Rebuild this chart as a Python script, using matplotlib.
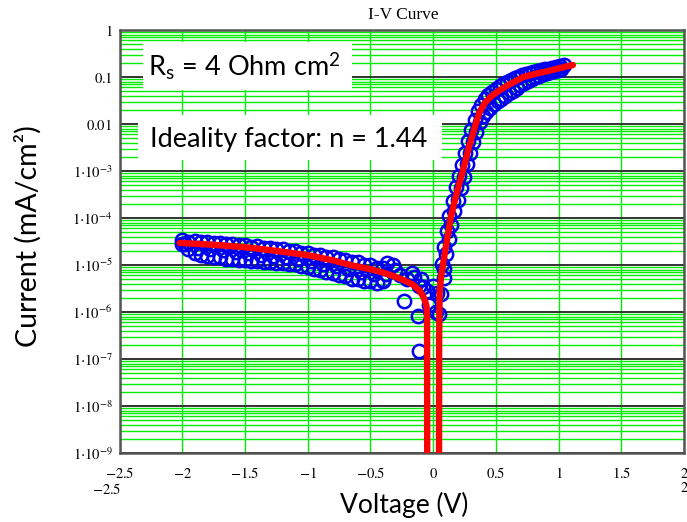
import numpy as np
import matplotlib
matplotlib.use("Agg")
import matplotlib.pyplot as plt
from matplotlib.patches import Rectangle
from matplotlib.ticker import FixedLocator, NullFormatter

plt.rcParams['mathtext.fontset'] = 'stix'

# measured J-V points, log10 of current density (mA/cm^2)
# reverse bias, three overlapping passes
rev_v = [-2.00, -1.95, -1.90, -1.85, -1.80, -1.75, -1.70, -1.65, -1.60, -1.55, -1.50,
         -1.45, -1.40, -1.35, -1.30, -1.25, -1.20, -1.15, -1.10, -1.05, -1.00, -0.95,
         -0.90, -0.85, -0.80, -0.75, -0.70, -0.65, -0.60, -0.55, -0.50, -0.45, -0.40]
rev_log_upper = [-4.47, -4.50, -4.49, -4.52, -4.51, -4.54, -4.53, -4.56, -4.56, -4.58, -4.57,
                 -4.61, -4.60, -4.64, -4.63, -4.67, -4.67, -4.71, -4.71, -4.75, -4.75, -4.79,
                 -4.79, -4.83, -4.84, -4.88, -4.89, -4.94, -4.94, -5.00, -5.01, -5.06, -5.07]
rev_log_lower = [-4.55, -4.66, -4.74, -4.79, -4.80, -4.83, -4.84, -4.87, -4.87, -4.89, -4.90,
                 -4.92, -4.92, -4.94, -4.94, -4.96, -4.96, -4.98, -4.98, -5.03, -5.05, -5.09,
                 -5.11, -5.15, -5.17, -5.21, -5.24, -5.29, -5.30, -5.34, -5.35, -5.39, -5.35]
rev_v_mid = [-1.975, -1.875, -1.775, -1.675, -1.575, -1.475, -1.375, -1.275, -1.175,
             -1.075, -0.975, -0.875, -0.775, -0.675, -0.575, -0.475, -0.375]
rev_log_mid = [-4.55, -4.63, -4.66, -4.69, -4.72, -4.75, -4.78, -4.81, -4.84,
               -4.88, -4.92, -4.97, -5.03, -5.09, -5.15, -5.20, -5.20]

# scattered points around 0 V
near_v = [-0.37, -0.40, -0.32, -0.30, -0.26, -0.23, -0.21, -0.17, -0.15, -0.12, -0.11,
          -0.10, -0.08, -0.05, -0.03, -0.11, 0.00, 0.02, 0.03, 0.05, 0.06, 0.09]
near_log = [-4.96, -5.32, -5.00, -5.10, -5.22, -5.76, -5.30, -5.18, -5.25, -6.08, -5.45,
            -5.30, -5.46, -5.55, -5.85, -6.84, -5.45, -6.00, -5.60, -6.05, -5.62, -5.28]

# forward bias, two passes
fwd_v_a = [0.07, 0.09, 0.11, 0.13, 0.155, 0.18, 0.205, 0.23, 0.255, 0.28, 0.305, 0.33,
           0.355, 0.38, 0.41, 0.44, 0.47, 0.50, 0.53, 0.56, 0.59, 0.62, 0.65, 0.68,
           0.71, 0.74, 0.77, 0.80, 0.83, 0.86, 0.89, 0.92, 0.95, 0.98, 1.01, 1.04]
fwd_log_a = [-4.98, -4.62, -4.28, -3.96, -3.63, -3.35, -3.11, -2.87, -2.61, -2.36, -2.13, -1.92,
             -1.73, -1.59, -1.47, -1.38, -1.31, -1.25, -1.20, -1.15, -1.11, -1.07, -1.03, -1.00,
             -0.96, -0.94, -0.91, -0.89, -0.87, -0.85, -0.83, -0.82, -0.80, -0.78, -0.77, -0.75]
fwd_v_b = [0.085, 0.105, 0.125, 0.145, 0.17, 0.195, 0.22, 0.245, 0.27, 0.295, 0.32, 0.345,
           0.37, 0.395, 0.425, 0.455, 0.485, 0.515, 0.545, 0.575, 0.605, 0.635, 0.665,
           0.695, 0.725, 0.755, 0.785, 0.815, 0.845, 0.875, 0.905, 0.935, 0.965, 0.995, 1.02]
fwd_log_b = [-5.08, -4.76, -4.44, -4.14, -3.86, -3.61, -3.36, -3.12, -2.86, -2.61, -2.38, -2.16,
             -1.96, -1.83, -1.74, -1.65, -1.58, -1.52, -1.46, -1.40, -1.34, -1.29, -1.24,
             -1.18, -1.13, -1.08, -1.04, -1.00, -0.97, -0.94, -0.92, -0.90, -0.88, -0.86, -0.84]

# diode model fit (|J|), two branches either side of the zero crossing
fit_rev_v = [-2.02, -1.75, -1.5, -1.25, -1.0, -0.8, -0.66, -0.5, -0.4, -0.3, -0.22, -0.16,
             -0.11, -0.079, -0.06, -0.052, -0.048, -0.047]
fit_rev_log = [-4.53, -4.57, -4.62, -4.70, -4.79, -4.90, -5.00, -5.09, -5.16, -5.25, -5.34, -5.42,
               -5.54, -5.67, -5.80, -5.89, -6.10, -10.0]
fit_fwd_v = [0.047, 0.048, 0.052, 0.062, 0.09, 0.115, 0.14, 0.18, 0.237, 0.285, 0.34, 0.37,
             0.41, 0.46, 0.52, 0.6, 0.72, 0.82, 0.92, 1.01, 1.114]
fit_fwd_log = [-10.0, -6.5, -5.6, -5.28, -4.8, -4.4, -4.0, -3.55, -3.0, -2.5, -2.0, -1.75,
               -1.56, -1.42, -1.3, -1.17, -1.0, -0.93, -0.87, -0.81, -0.745]

x_ticks = [-2.5, -2.0, -1.5, -1.0, -0.5, 0.0, 0.5, 1.0, 1.5, 2.0]
x_tick_labels = ['$-2.5$', '$-2$', '$-1.5$', '$-1$', '$-0.5$', '$0$', '$0.5$', '$1$', '$1.5$', '$2$']
y_decades = [1e-9, 1e-8, 1e-7, 1e-6, 1e-5, 1e-4, 1e-3, 1e-2, 1e-1, 1.0]
y_tick_labels = [r'$1{\cdot}10^{-9}$', r'$1{\cdot}10^{-8}$', r'$1{\cdot}10^{-7}$',
                 r'$1{\cdot}10^{-6}$', r'$1{\cdot}10^{-5}$', r'$1{\cdot}10^{-4}$',
                 r'$1{\cdot}10^{-3}$', '$0.01$', '$0.1$', '$1$']

W, H = 687, 522
fig = plt.figure(figsize=(W / 100, H / 100), dpi=100)
ax = fig.add_axes([119.5 / W, 1 - 453 / H, 564.5 / W, 423 / H])

ax.set_yscale('log')
ax.set_xlim(-2.5, 2.0)
ax.set_ylim(1e-9, 1.0)

minor = [k * d for d in y_decades[:-1] for k in range(2, 10)]
ax.yaxis.set_major_locator(FixedLocator(y_decades))
ax.yaxis.set_minor_locator(FixedLocator(minor))
ax.yaxis.set_minor_formatter(NullFormatter())
ax.set_yticklabels(y_tick_labels)
ax.set_xticks(x_ticks)
ax.set_xticklabels(x_tick_labels)
ax.tick_params(which='both', length=0)
ax.tick_params(axis='y', pad=5, labelsize=10.5)
ax.tick_params(axis='x', pad=9, labelsize=10.5)

ax.set_axisbelow(True)
ax.yaxis.grid(True, which='minor', color='#00ee00', lw=1.0)
ax.yaxis.grid(True, which='major', color='#333333', lw=1.4)
ax.xaxis.grid(True, which='major', color='#00ee00', lw=1.0)
for s in ax.spines.values():
    s.set_color('#555555')
    s.set_linewidth(1.8)

mk = dict(ls='none', marker='o', ms=9.6, mfc='none', mec='#0000ee', mew=1.8, zorder=3)
ax.plot(rev_v, 10 ** np.array(rev_log_upper), **mk)
ax.plot(rev_v, 10 ** np.array(rev_log_lower), **mk)
ax.plot(rev_v_mid, 10 ** np.array(rev_log_mid), **mk)
ax.plot(near_v, 10 ** np.array(near_log), **mk)
ax.plot(fwd_v_a, 10 ** np.array(fwd_log_a), **mk)
ax.plot(fwd_v_b, 10 ** np.array(fwd_log_b), **mk)

ax.plot(fit_rev_v, 10 ** np.array(fit_rev_log), color='#ff0000', lw=4.6, zorder=4,
        solid_capstyle='round')
ax.plot(fit_fwd_v, 10 ** np.array(fit_fwd_log), color='#ff0000', lw=4.6, zorder=4,
        solid_capstyle='round')

# annotation boxes
ax.add_patch(Rectangle((0.0416, 0.858), 0.371, 0.114, transform=ax.transAxes,
                       facecolor='white', edgecolor='none', zorder=2))
ax.add_patch(Rectangle((0.0328, 0.6927), 0.538, 0.1063, transform=ax.transAxes,
                       facecolor='white', edgecolor='none', zorder=2))
ax.text(0.05, 0.913, r'R$_\mathregular{s}$ = 4 Ohm cm$^\mathregular{2}$', transform=ax.transAxes,
        family='Lato', fontsize=19.5, va='center', ha='left', zorder=5)
ax.text(0.054, 0.742, 'Ideality factor: n = 1.44', transform=ax.transAxes,
        family='Lato', fontsize=19.5, va='center', ha='left', zorder=5)

fig.text(403 / W, 1 - 15 / H, 'I-V Curve', family='Liberation Serif', fontsize=12.5,
         ha='center', va='center')
fig.text(28 / W, 1 - 236 / H, 'Current (mA/cm\u00b2)', family='Lato', fontsize=20.5,
         rotation=90, ha='center', va='center')
fig.text(404 / W, 1 - 505 / H, 'Voltage (V)', family='Lato', fontsize=19,
         ha='center', va='center')
fig.text(107 / W, 1 - 490 / H, '$-2.5$', fontsize=10.5, ha='center', va='center')
fig.text(684 / W, 1 - 488 / H, '$2$', fontsize=10.5, ha='center', va='center')

fig.savefig('out.png', dpi=100)
